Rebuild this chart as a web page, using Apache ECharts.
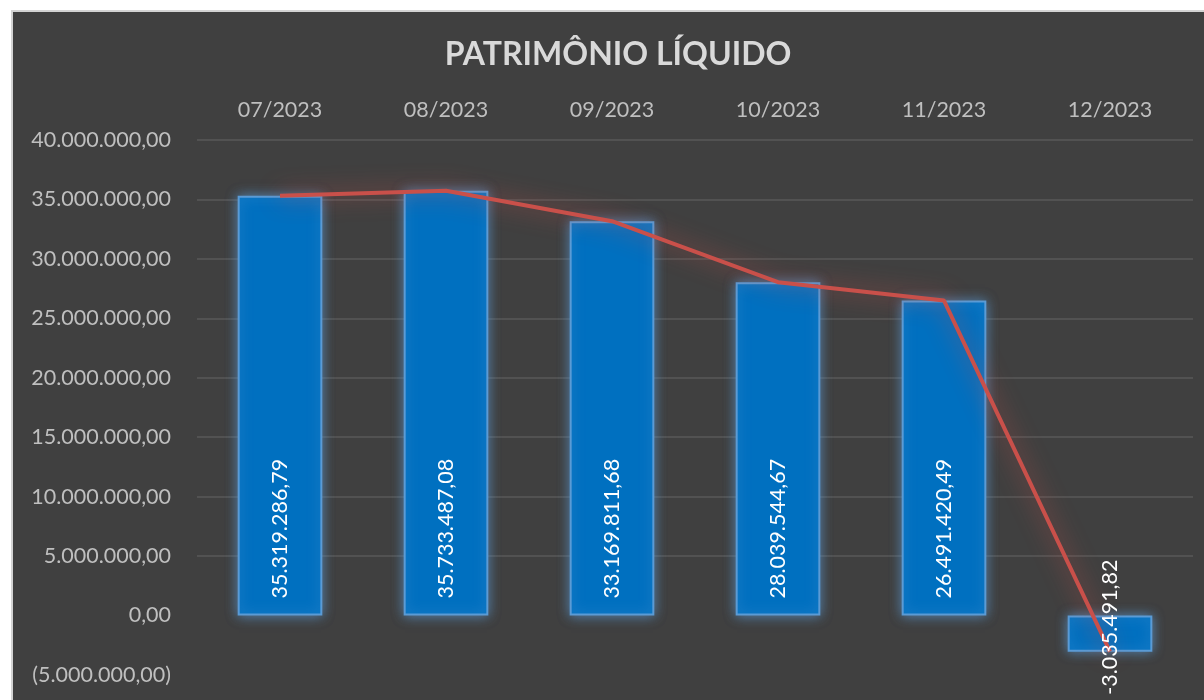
<!DOCTYPE html>
<html>
<head>
<meta charset="utf-8">
<script src="https://cdn.jsdelivr.net/npm/echarts@6/dist/echarts.min.js"></script>
<style>
  html, body { margin: 0; padding: 0; background: #ffffff; }
  #main {
    position: absolute;
    left: 11px;
    top: 10px;
    width: 1191px;
    height: 688px;
    border-left: 2px solid #d3d3d3;
    border-top: 2px solid #d3d3d3;
    background: #404040;
  }
</style>
</head>
<body>
<div id="main"></div>
<script>
const categories = ["07/2023", "08/2023", "09/2023", "10/2023", "11/2023", "12/2023"];
const patrimonio = [35319286.79, 35733487.08, 33169811.68, 28039544.67, 26491420.49, -3035491.82];
const y_min = -5000000;
const y_max = 40000000;
const y_step = 5000000;

const font = "Lato, 'Open Sans', sans-serif";

function fmt_br(v) {
  const neg = v < 0;
  const parts = Math.abs(v).toFixed(2).split(".");
  const int = parts[0].replace(/\B(?=(\d{3})+(?!\d))/g, ".");
  return (neg ? "-" : "") + int + "," + parts[1];
}

function fmt_axis(v) {
  return v < 0 ? "(" + fmt_br(-v) + ")" : fmt_br(v);
}

// grid lines: none at -5M and 0, the rest grey
const split_colors = [];
for (let v = y_min; v <= y_max; v += y_step) {
  split_colors.push(v <= 0 ? "rgba(0,0,0,0)" : "#595959");
}

// labels sit on a transparent bar on top so the red line passes under them
const label_data = patrimonio.map(function(v) {
  if (v < 0) {
    return { value: v, label: { position: "top", distance: 56, align: "right" } };
  }
  return v;
});

const chart = echarts.init(document.getElementById("main"));

chart.setOption({
  backgroundColor: "#404040",
  animation: false,
  title: {
    text: "PATRIMÔNIO LÍQUIDO",
    left: 600,
    top: 22,
    textAlign: "center",
    textStyle: {
      color: "#d9d9d9",
      fontFamily: font,
      fontWeight: "bold",
      fontSize: 32
    }
  },
  grid: {
    left: 184,
    right: 11,
    top: 128,
    bottom: 25,
    containLabel: false
  },
  xAxis: {
    type: "category",
    position: "top",
    data: categories,
    axisLine: { show: false },
    axisTick: { show: false },
    axisLabel: {
      color: "#bfbfbf",
      fontFamily: font,
      fontSize: 21.5,
      margin: 19
    }
  },
  yAxis: {
    type: "value",
    min: y_min,
    max: y_max,
    interval: y_step,
    axisLine: { show: false },
    axisTick: { show: false },
    axisLabel: {
      color: "#bfbfbf",
      fontFamily: font,
      fontSize: 21.5,
      margin: 26,
      formatter: fmt_axis
    },
    splitLine: {
      lineStyle: { color: split_colors, width: 1.5 }
    }
  },
  series: [
    {
      name: "barras",
      type: "bar",
      data: patrimonio,
      barWidth: "51%",
      z: 2,
      itemStyle: {
        color: "#0070c0",
        borderColor: "#5b9bd5",
        borderWidth: 2,
        shadowBlur: 12,
        shadowColor: "rgba(91,155,213,0.75)"
      }
    },
    {
      name: "linha",
      type: "line",
      data: patrimonio,
      z: 3,
      symbol: "none",
      lineStyle: {
        color: "#c9504a",
        width: 4,
        shadowBlur: 22,
        shadowColor: "rgba(201,80,74,0.85)"
      }
    },
    {
      name: "rotulos",
      type: "bar",
      data: label_data,
      barWidth: "51%",
      barGap: "-100%",
      z: 4,
      silent: true,
      itemStyle: { color: "rgba(0,0,0,0)" },
      label: {
        show: true,
        position: "insideBottom",
        distance: 17,
        rotate: 90,
        align: "left",
        verticalAlign: "middle",
        color: "#ffffff",
        fontFamily: font,
        fontSize: 21.5,
        formatter: function(p) { return fmt_br(p.value); }
      }
    }
  ]
});
</script>
</body>
</html>
